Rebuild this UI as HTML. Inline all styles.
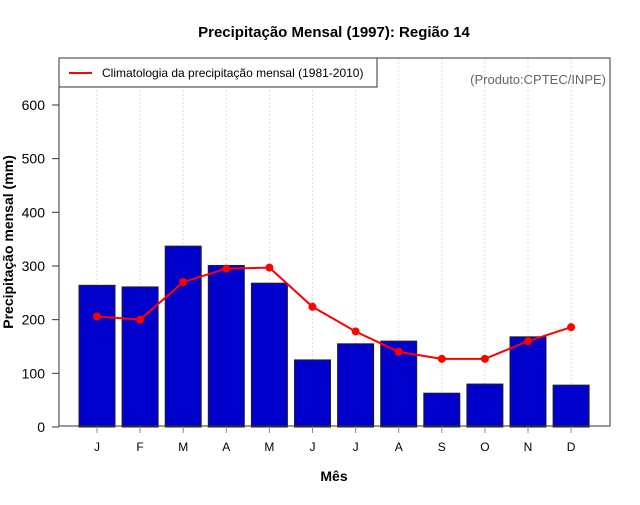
<!DOCTYPE html>
<html><head><meta charset="utf-8"><style>body{margin:0;background:#fff}svg text{font-family:"Liberation Sans",sans-serif}</style></head>
<body>
<svg id="c" width="640" height="500" xmlns="http://www.w3.org/2000/svg">
<text x="334" y="37" text-anchor="middle" font-size="15" font-weight="bold">Precipitação Mensal (1997): Região 14</text>
<text x="13" y="242" text-anchor="middle" font-size="14" font-weight="bold" transform="rotate(-90 13 242)">Precipitação mensal (mm)</text>
<text x="334" y="481" text-anchor="middle" font-size="14" font-weight="bold">Mês</text>
<g id="grid"></g><g id="bars"></g><g id="line"></g><g id="axes"></g>
<rect x="59" y="58" width="551" height="368" fill="none" stroke="#333" stroke-width="1"/>
<g>
<rect x="59" y="58" width="318" height="29" fill="#fff" stroke="#333"/>
<line x1="69" y1="73" x2="92" y2="73" stroke="red" stroke-width="2"/>
<text x="102" y="77" font-size="12">Climatologia da precipitação mensal (1981-2010)</text>
</g>
<text x="606" y="84" text-anchor="end" font-size="13" fill="#666">(Produto:CPTEC/INPE)</text>
</svg>
<script>
const months=["J","F","M","A","M","J","J","A","S","O","N","D"];
const precip=[264,261,337,301,268,125,155,160,63,80,168,78];
const climat=[206,200,270,295,297,224,178,140,127,127,160,186];
const yTicks=[0,100,200,300,400,500,600];
const NS="http://www.w3.org/2000/svg";
const xs=i=>97+i*43.1;
const ys=v=>427-v*0.5367;
function mk(t,a,p){const e=document.createElementNS(NS,t);for(const k in a)e.setAttribute(k,a[k]);p.appendChild(e);return e;}
const grid=document.getElementById('grid'),bars=document.getElementById('bars'),line=document.getElementById('line'),axes=document.getElementById('axes');
months.forEach((m,i)=>{
 const g=mk('line',{x1:xs(i),x2:xs(i),y1:58,y2:426,stroke:'#ddd','stroke-dasharray':'2,2'},grid);
 
 
 const b=mk('rect',{x:xs(i)-18,y:ys(precip[i]),width:36,height:ys(0)-ys(precip[i]),fill:'#0000cc',stroke:'#222','stroke-width':1},bars);
 
 
 const t=mk('line',{x1:xs(i),x2:xs(i),y1:426,y2:433,stroke:'#888'},axes);
 
 
 const l=mk('text',{x:xs(i),y:451,'text-anchor':'middle','font-size':12},axes);
 l.textContent=m;
 
 
});
const pl=mk('polyline',{points:climat.map((v,i)=>xs(i)+','+ys(v)).join(' '),fill:'none',stroke:'red','stroke-width':2},line);


climat.forEach((v,i)=>{
 const c=mk('circle',{cx:xs(i),cy:ys(v),r:4,fill:'red'},line);
 
 
});
yTicks.forEach(v=>{
 const t=mk('line',{x1:52,x2:59,y1:ys(v),y2:ys(v),stroke:'#333'},axes);
 
 
 const l=mk('text',{x:45,y:ys(v)+5,'text-anchor':'end','font-size':14},axes);
 l.textContent=v;
 
 
});
</script>
</body></html>
